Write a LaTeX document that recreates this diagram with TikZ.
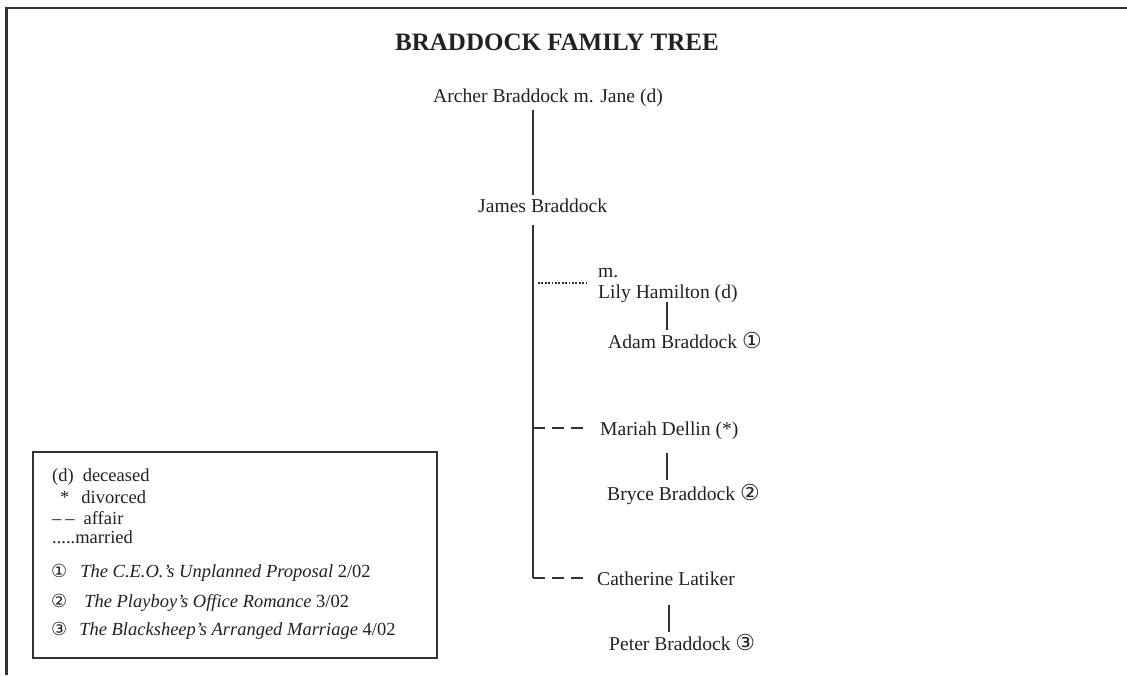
\documentclass[tikz,border=0pt]{standalone}
\usepackage{fontspec}
\setmainfont{Liberation Serif}
\newfontfamily\symfont{DejaVu Sans}
\definecolor{ink}{HTML}{222222}
\definecolor{rule}{HTML}{333333}
\newcommand{\circnum}[1]{{\symfont\fontsize{22}{22}\selectfont #1}}
\newcommand{\legnum}[1]{{\symfont\fontsize{18}{18}\selectfont #1}}
\tikzset{
  frameline/.style={draw=rule, line width=2.5pt},
  treeline/.style={draw=rule, line width=1.5pt},
  affairline/.style={draw=rule, line width=1.6pt, dash pattern=on 12pt off 7pt},
  marriedline/.style={draw=rule, line width=1.8pt, dash pattern=on 1.8pt off 1.6pt},
  titletext/.style={font=\fontsize{25}{27}\selectfont\bfseries, text=ink, inner sep=0pt},
  person/.style={font=\fontsize{19.6}{22}\selectfont, text=ink, inner sep=0pt, anchor=west, text height=14pt, text depth=0pt},
  legtext/.style={font=\fontsize{18.5}{20}\selectfont, text=ink, inner sep=0pt, anchor=west, text height=13pt, text depth=0pt},
  legendbox/.style={draw=rule, line width=1.6pt, inner sep=0pt, minimum width=404pt, minimum height=206pt},
}
\begin{document}
\begin{tikzpicture}[x=1pt,y=-1pt]
\useasboundingbox (0,0) rectangle (1127,675);
\fill[white] (0,0) rectangle (1127,675);
% frame
\draw[frameline] (6.5,675) -- (6.5,8) -- (1127,8);

% title
\node[titletext] (title) at (557,42) {BRADDOCK FAMILY TREE};

% people
\node[person] (archer) at (433,95) {Archer Braddock m. Jane (d)};
\node[person] (james) at (478,205) {James Braddock};
\node[person] (m) at (598,270) {m.};
\node[person] (lily) at (598,291) {Lily Hamilton (d)};
\node[person] (adam) at (608,341) {Adam Braddock \circnum{①}};
\node[person] (mariah) at (600,428) {Mariah Dellin (*)};
\node[person] (bryce) at (607,493) {Bryce Braddock \circnum{②}};
\node[person] (catherine) at (597,578) {Catherine Latiker};
\node[person] (peter) at (609,643) {Peter Braddock \circnum{③}};

\coordinate (trunk) at (533,0);
\coordinate (kidA) at (667,0);
\coordinate (kidB) at (667,0);
\coordinate (kidC) at (669,0);

% connectors
\draw[treeline] ([yshift=-8pt]archer.south -| trunk) -- ([yshift=3pt]james.north -| trunk);
\draw[treeline] ([yshift=-13pt]james.south -| trunk) -- (trunk |- catherine.west);
\draw[affairline] (trunk |- catherine.west) -- ([xshift=-12pt]catherine.west);
\draw[affairline] (trunk |- mariah.west) -- ([xshift=-12pt]mariah.west);
\draw[marriedline] ([xshift=5pt,yshift=8pt]trunk |- lily.west) -- ([xshift=-9pt,yshift=8pt]lily.west);
\draw[treeline] ([yshift=-4pt]lily.south -| kidA) -- ([yshift=4pt]adam.north -| kidA);
\draw[treeline] ([yshift=-18pt]mariah.south -| kidB) -- ([yshift=6pt]bryce.north -| kidB);
\draw[treeline] ([yshift=-20pt]catherine.south -| kidC) -- ([yshift=4pt]peter.north -| kidC);

% legend
\node[legendbox] (legend) at (235,555) {};
\node[legtext] (lg1) at (52,475) {(d)\hskip9pt deceased};
\node[legtext] (lg2) at (60,497) {*\hskip12pt divorced};
\node[legtext] (lg3) at (52,518) {–\hskip4pt–\hskip9pt affair};
\node[legtext] (lg4) at (52,537) {.....married};
\node[legtext] (lg5) at (51,571) {\legnum{①}\hskip13pt\textit{The C.E.O.’s Unplanned Proposal} 2/02};
\node[legtext] (lg6) at (51,601) {\legnum{②}\hskip17pt\textit{The Playboy’s Office Romance} 3/02};
\node[legtext] (lg7) at (51,629) {\legnum{③}\hskip12pt\textit{The Blacksheep’s Arranged Marriage} 4/02};
\end{tikzpicture}
\end{document}
